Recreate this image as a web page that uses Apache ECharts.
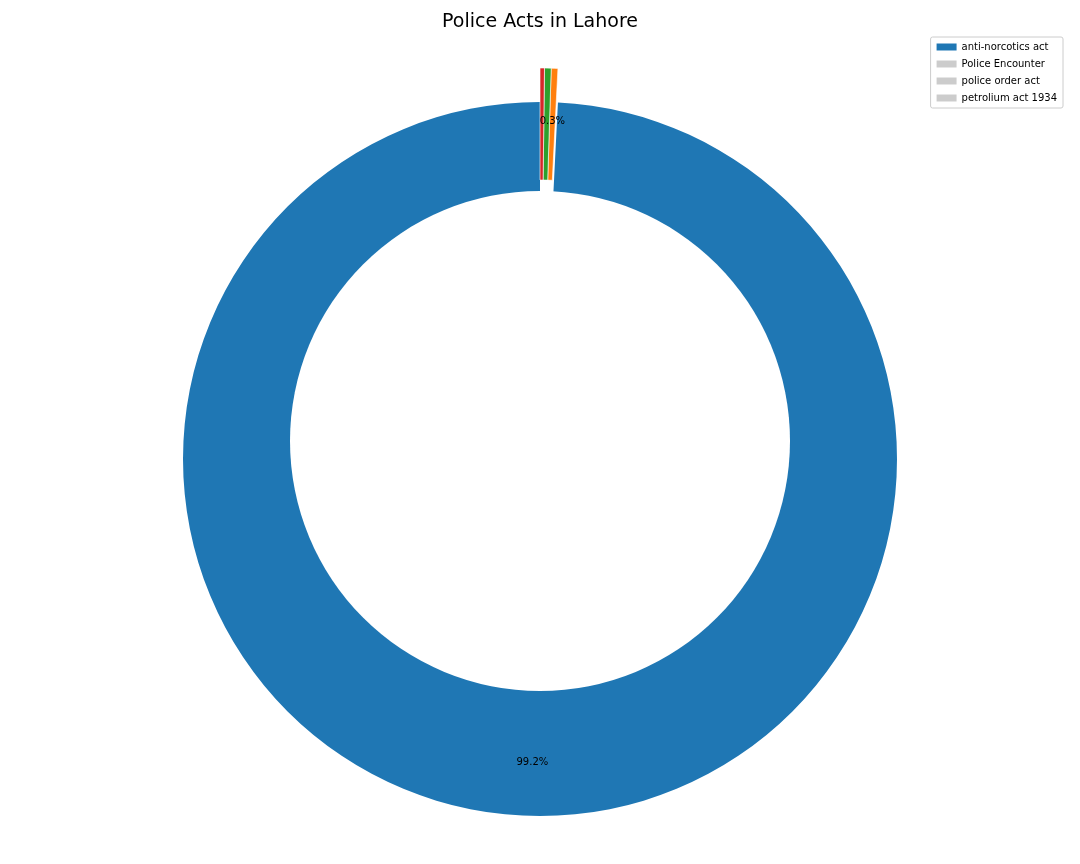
<!DOCTYPE html>
<html>
<head>
<meta charset="utf-8">
<script src="https://cdn.jsdelivr.net/npm/echarts@6/dist/echarts.min.js"></script>
<style>html,body{margin:0;background:#fff}#c{width:1080px;height:864px}</style>
</head>
<body>
<div id="c"></div>
<script>
var categories = ['anti-norcotics act', 'Police Encounter', 'police order act', 'petrolium act 1934'];
var values = [99.2, 0.3, 0.3, 0.2];
var colors = ['#1f77b4', '#ff7f0e', '#2ca02c', '#d62728'];

var font = 'DejaVu Sans';
var chart = echarts.init(document.getElementById('c'));

function pct(p) { return p.percent.toFixed(1) + '%'; }

var bigData = categories.map(function (n, i) {
  return i === 0 ? { name: n, value: values[i], itemStyle: { color: colors[i] } }
                 : { name: n, value: values[i], itemStyle: { color: 'transparent' }, label: { show: false } };
});
var smallData = categories.map(function (n, i) {
  return i === 0 ? { name: n + ' ', value: values[i], itemStyle: { color: 'transparent', borderWidth: 0 }, label: { show: false } }
                 : { name: n, value: values[i], itemStyle: { color: colors[i] } };
});
var labelData = categories.map(function (n, i) {
  return { name: n + '  ', value: values[i], label: { show: i === 0 } };
});

var common = {
  type: 'pie', startAngle: 90, clockwise: false, minAngle: 0, avoidLabelOverlap: false,
  labelLine: { show: false }, emphasis: { disabled: true }, animation: false
};

chart.setOption({
  title: { text: 'Police Acts in Lahore', left: 'center', top: 8,
    textStyle: { fontFamily: font, fontSize: 19, fontWeight: 'normal', color: '#000' } },
  legend: {
    data: categories, orient: 'vertical', right: 17, top: 37,
    itemWidth: 20, itemHeight: 7, itemGap: 7, icon: 'rect',
    borderColor: '#ccc', borderWidth: 1, borderRadius: 2, padding: [5, 6, 5, 6],
    textStyle: { fontFamily: font, fontSize: 10, color: '#000' }
  },
  color: colors,
  series: [
    Object.assign({}, common, { center: [540, 459], radius: [0, 357], data: bigData, label: { show: false },
      itemStyle: { borderColor: '#fff', borderWidth: 0 } }),
    Object.assign({}, common, { center: [540, 425], radius: [245, 357], data: smallData,
      itemStyle: { borderColor: '#fff', borderWidth: 0.6 },
      label: { show: true, position: 'inside', formatter: pct, fontFamily: font, fontSize: 10, color: '#000' } }),
    Object.assign({}, common, { center: [540, 459], radius: [245, 357], data: labelData, silent: true, z: 120,
      itemStyle: { color: 'transparent' },
      label: { show: true, position: 'inside', formatter: pct, fontFamily: font, fontSize: 10, color: '#000' } })
  ],
  graphic: [{ type: 'circle', shape: { cx: 540, cy: 441, r: 250 }, style: { fill: '#fff' }, z: 100, silent: true }]
});
</script>
</body>
</html>
